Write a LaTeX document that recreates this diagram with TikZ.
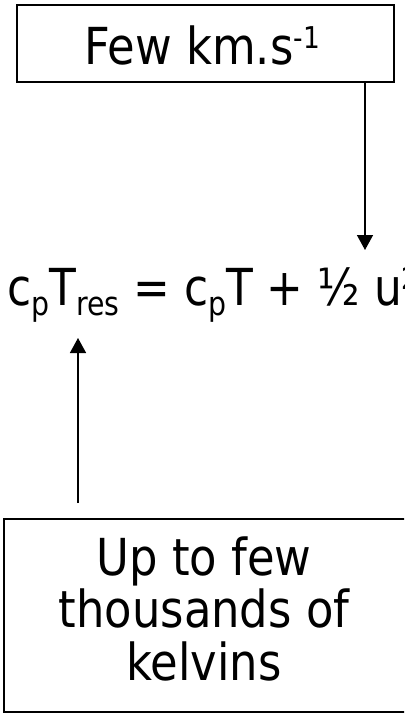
\documentclass[tikz,border=0pt]{standalone}
\usepackage{fontspec}
\setmainfont{DejaVu Sans}[FakeStretch=0.88]
\newfontfamily\eqfont{DejaVu Sans}[FakeStretch=0.86]
\usetikzlibrary{arrows.meta}
\newcommand\lsub[1]{\raisebox{-10pt}{\fontsize{33}{33}\selectfont #1}}
\newcommand\lsup[1]{\raisebox{16pt}{\fontsize{30}{30}\selectfont #1}}
\tikzset{
  boxstyle/.style={draw=black, line width=1.6pt, inner sep=0pt},
  txt/.style={inner sep=0pt, font=\fontsize{51}{52.5}\selectfont},
  arr/.style={line width=1.5pt, -{Triangle[length=15pt,width=16pt]}}
}
\begin{document}
\begin{tikzpicture}[x=1pt,y=-1pt]
\useasboundingbox (0,0) rectangle (404,714);
\clip (0,0) rectangle (404,714);
\node[boxstyle, minimum width=377pt, minimum height=77pt] (topbox) at (205.5,43.5) {};
\node[txt, anchor=base] (toptext) at (202,65) {Few km.s\lsup{-1}};
\node[boxstyle, minimum width=402pt, minimum height=193pt] (botbox) at (205,615.5) {};
\node[txt, anchor=base, align=center] (bottext) at (204,680) {Up to few\\thousands of\\kelvins};
\node[txt, anchor=base west] (eq) at (7,305) {\eqfont c\lsub{p}T\lsub{res} = c\lsub{p}T + ½ u\lsup{2}};
\coordinate (tipA) at (365,250);
\coordinate (tipB) at (78,338);
\draw[arr] (topbox.south -| tipA) -- (tipA);
\draw[arr, shorten <=15pt] (botbox.north -| tipB) -- (tipB);
\end{tikzpicture}
\end{document}
